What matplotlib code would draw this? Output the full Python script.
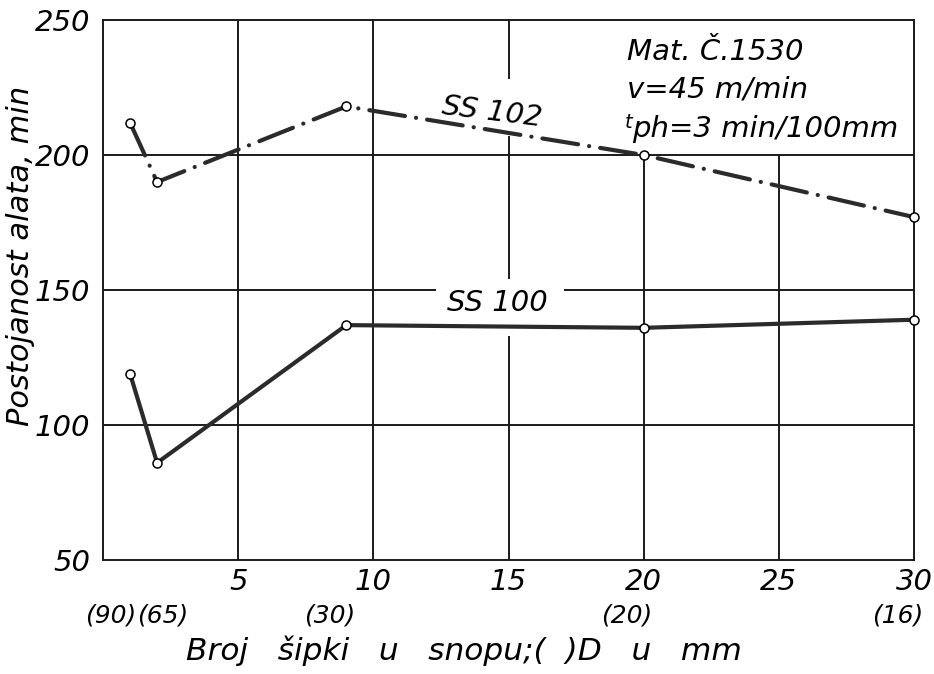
import matplotlib
matplotlib.use("Agg")
import matplotlib.pyplot as plt

# data
broj_sipki = [1, 2, 9, 20, 30]
promjer = ['(90)', '(65)', '(30)', '(20)', '(16)']
ss102 = [212, 190, 218, 200, 177]
ss100 = [119, 86, 137, 136, 139]
x_ticks = [5, 10, 15, 20, 25, 30]
y_ticks = [50, 100, 150, 200, 250]

plt.rcParams['font.family'] = ['DejaVu Sans']
plt.rcParams['font.style'] = 'italic'
plt.rcParams['lines.scale_dashes'] = False

fig = plt.figure(figsize=(9.34, 6.74), dpi=100)
ax = fig.add_axes([0.1103, 0.1691, 0.8683, 0.8012])
ax.set_xlim(0, 30)
ax.set_ylim(50, 250)

ink = '#1a1a1a'
glw = 1.4

# mreža s prekidima oko natpisa
ax.vlines([5, 10], 50, 250, color=ink, lw=glw, zorder=1)
ax.vlines([15, 15, 15], [50, 154, 228], [133, 207, 250], color=ink, lw=glw, zorder=1)
ax.vlines([20, 25], 50, 200, color=ink, lw=glw, zorder=1)
ax.hlines([100, 200], 0, 30, color=ink, lw=glw, zorder=1)
ax.hlines([150, 150], [0, 17.05], [12.3, 30], color=ink, lw=glw, zorder=1)

for s in ax.spines.values():
    s.set_linewidth(glw)
    s.set_color(ink)

line_col = '#2b2b2b'
ax.plot(broj_sipki, ss102, color=line_col, lw=3.0, dashes=(26, 8, 0.1, 8),
        dash_capstyle='round', zorder=3)
ax.plot(broj_sipki, ss100, color=line_col, lw=3.0, solid_capstyle='round', zorder=3)
for ys in (ss102, ss100):
    ax.plot(broj_sipki, ys, ls='none', marker='o', ms=6.5, mfc='white',
            mec='black', mew=1.1, zorder=4, clip_on=False)

ax.set_xticks(x_ticks)
ax.set_yticks(y_ticks)
ax.tick_params(length=0, labelsize=21, pad=9)
ax.tick_params(axis='x', pad=6)

# promjeri u zagradama ispod brojeva
shift = [-14, 4, -12, -12, -12]
for xv, lab, dx in zip(broj_sipki, promjer, shift):
    ax.annotate(lab, xy=(xv, 50), xycoords='data', xytext=(dx, -40),
                textcoords='offset points', ha='center', va='center',
                fontsize=18, annotation_clip=False)

fig.text(0.497, 0.035, 'Broj   šipki   u   snopu;(  )D   u   mm',
         ha='center', va='center', fontsize=22.5)
fig.text(0.022, 0.62, 'Postojanost alata, min', rotation=90,
         ha='center', va='center', fontsize=22)

fig.text(0.671, 0.911, 'Mat. Č.1530', fontsize=21, ha='left', va='baseline')
fig.text(0.671, 0.856, 'v=45 m/min', fontsize=21, ha='left', va='baseline')
fig.text(0.669, 0.810, 't', fontsize=14, ha='left', va='baseline')
fig.text(0.677, 0.797, 'ph=3 min/100mm', fontsize=21, ha='left', va='baseline')

fig.text(0.527, 0.834, 'SS 102', fontsize=21, ha='center', va='center',
         rotation=-7)
fig.text(0.532, 0.55, 'SS 100', fontsize=21, ha='center', va='center')

fig.savefig('out.png', dpi=100)
